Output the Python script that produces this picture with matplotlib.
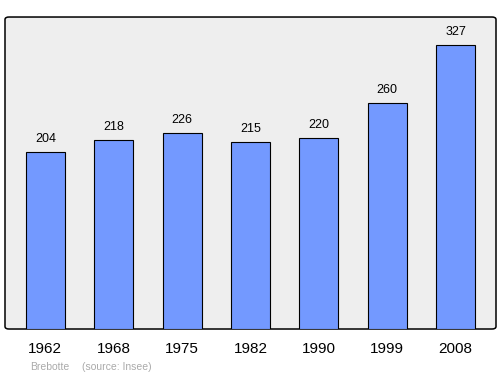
import matplotlib.pyplot as plt
from matplotlib.patches import FancyBboxPatch

years = ["1962", "1968", "1975", "1982", "1990", "1999", "2008"]
population = [204, 218, 226, 215, 220, 260, 327]

plt.rcParams["font.family"] = ["Liberation Sans", "DejaVu Sans"]

fig = plt.figure(figsize=(5, 3.74), dpi=100)
ax = fig.add_axes([0.01, 0.1203, 0.982, 0.8342])
ax.set_facecolor("none")

# rounded grey background with black border
bg = FancyBboxPatch((0, 0), 1, 1, boxstyle="round,pad=0,rounding_size=0.008",
                    transform=ax.transAxes, facecolor="#eeeeee",
                    edgecolor="black", linewidth=1.1, zorder=0, clip_on=False)
ax.add_patch(bg)

x = range(len(years))
ax.bar(x, population, width=0.57, color="#7399ff", edgecolor="black",
       linewidth=0.8, zorder=2)
for xi, v in zip(x, population):
    ax.text(xi, v + 8, str(v), ha="center", va="bottom", fontsize=9)

ax.set_xlim(-0.59, 6.59)
ax.set_ylim(0, 359)
for s in ax.spines.values():
    s.set_visible(False)
ax.set_yticks([])
ax.set_xticks(list(x))
ax.set_xticklabels(years, fontsize=11)
ax.tick_params(axis="x", length=0, pad=9)

fig.text(0.06, 0.012, "Brebotte", fontsize=7.5, color="#aaaaaa")
fig.text(0.164, 0.012, "(source: Insee)", fontsize=7.5, color="#aaaaaa")

fig.savefig("out.png", dpi=100)
